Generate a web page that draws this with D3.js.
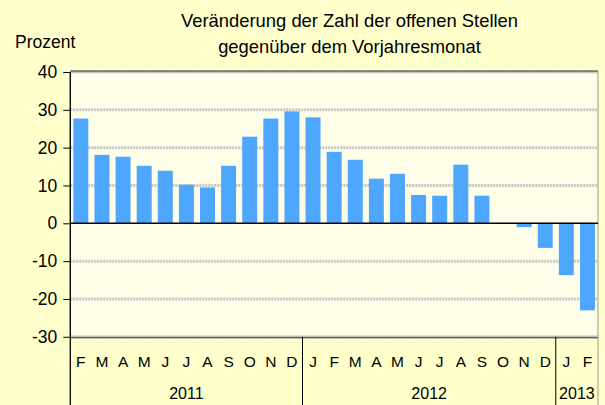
<!DOCTYPE html>
<html>
<head>
<meta charset="utf-8">
<script src="https://cdn.jsdelivr.net/npm/d3@7"></script>
<style>
  body { margin: 0; background: #ffffcc; }
  svg { display: block; font-family: "Liberation Sans", Arial, sans-serif; }
</style>
</head>
<body>
<div id="chart"></div>
<script>
// Monthly values, Feb 2011 .. Feb 2013
const MONTHS = ["F","M","A","M","J","J","A","S","O","N","D",
                "J","F","M","A","M","J","J","A","S","O","N","D",
                "J","F"];
const VALUES = [27.7, 18.1, 17.6, 15.2, 13.9, 10.2, 9.5, 15.2, 22.9, 27.7, 29.6,
                28.0, 18.9, 16.8, 11.8, 13.1, 7.5, 7.3, 15.5, 7.3, 0, -1.0, -6.5,
                -13.7, -23.0];
const YEARS = [
    {label: "2011", count: 11},
    {label: "2012", count: 12},
    {label: "2013", count: 2}
];
const Y_TICKS = [40, 30, 20, 10, 0, -10, -20, -30];
const TITLE = ["Veränderung der Zahl der offenen Stellen", "gegenüber dem Vorjahresmonat"];

const BG_COLOR = "#ffffcc";
const PLOT_BG = "#ffffe9";
const BAR_COLOR = "#4ea7ff";
const GRID_COLOR = "#c4c4c4";

const width = 605, height = 405;
const plot = {left: 70.3, right: 598, top: 72, bottom: 336.8};

const svg = d3.select("#chart")
    .append("svg")
    .attr("width", width)
    .attr("height", height);

svg.append("rect")
    .attr("width", width)
    .attr("height", height)
    .attr("fill", BG_COLOR);

const ids = MONTHS.map((m, i) => i);
const xScale = d3.scaleBand()
    .domain(ids)
    .range([plot.left, plot.right])
    .paddingInner(0.29)
    .paddingOuter(0.145);

const yScale = d3.scaleLinear()
    .domain([-30, 40])
    .range([plot.bottom, plot.top]);

// plot area
svg.append("rect")
    .attr("x", plot.left)
    .attr("y", plot.top)
    .attr("width", plot.right - plot.left)
    .attr("height", plot.bottom - plot.top)
    .attr("fill", PLOT_BG)
    .attr("stroke", "#999")
    .attr("stroke-width", 1);

// gridlines
svg.selectAll(".grid")
    .data(Y_TICKS.filter(d => d !== 0))
    .enter()
    .append("line")
    .attr("class", "grid")
    .attr("x1", plot.left)
    .attr("x2", plot.right)
    .attr("y1", d => yScale(d))
    .attr("y2", d => yScale(d))
    .attr("stroke", GRID_COLOR)
    .attr("stroke-width", 3)
    .attr("stroke-dasharray", "2,1");

// top and bottom dark edges
[40, -30].forEach(v => {
    svg.append("line")
        .attr("x1", plot.left)
        .attr("x2", plot.right)
        .attr("y1", yScale(v) + (v > 0 ? -1 : 1))
        .attr("y2", yScale(v) + (v > 0 ? -1 : 1))
        .attr("stroke", "#333")
        .attr("stroke-width", 1);
});

// bars
svg.selectAll(".bar")
    .data(VALUES)
    .enter()
    .append("rect")
    .attr("class", "bar")
    .attr("x", (d, i) => xScale(i))
    .attr("y", d => yScale(Math.max(0, d)))
    .attr("width", xScale.bandwidth())
    .attr("height", d => Math.abs(yScale(d) - yScale(0)))
    .attr("fill", BAR_COLOR);

// zero line
svg.append("line")
    .attr("x1", plot.left)
    .attr("x2", plot.right)
    .attr("y1", yScale(0))
    .attr("y2", yScale(0))
    .attr("stroke", "#000")
    .attr("stroke-width", 1.5);

// y axis
const yAxis = svg.append("g")
    .attr("transform", `translate(${plot.left},0)`)
    .call(d3.axisLeft(yScale).tickValues(Y_TICKS).tickSize(7).tickPadding(6).tickFormat(d => String(d)));
yAxis.select(".domain").remove();
yAxis.selectAll("line").attr("stroke", "#000");
yAxis.selectAll("text")
    .attr("font-size", 17.5)
    .attr("fill", "#000")
    .attr("font-family", "Liberation Sans, Arial, sans-serif");

svg.append("line")
    .attr("x1", plot.left)
    .attr("x2", plot.left)
    .attr("y1", plot.top)
    .attr("y2", height)
    .attr("stroke", "#000")
    .attr("stroke-width", 1.3);

// month labels
svg.selectAll(".month")
    .data(MONTHS)
    .enter()
    .append("text")
    .attr("class", "month")
    .attr("x", (d, i) => xScale(i) + xScale.bandwidth() / 2)
    .attr("y", 366.5)
    .attr("text-anchor", "middle")
    .attr("font-size", 15.5)
    .attr("fill", "#000")
    .text(d => d);

// year labels and separators
let start = 0;
YEARS.forEach(y => {
    const x0 = plot.left + start * xScale.step();
    const x1 = plot.left + (start + y.count) * xScale.step();
    svg.append("text")
        .attr("x", (x0 + x1) / 2)
        .attr("y", 399)
        .attr("text-anchor", "middle")
        .attr("font-size", 16)
        .attr("fill", "#000")
        .text(y.label);
    start += y.count;
    if (start < MONTHS.length) {
        svg.append("line")
            .attr("x1", x1).attr("x2", x1)
            .attr("y1", plot.bottom).attr("y2", height)
            .attr("stroke", "#000")
            .attr("stroke-width", 1);
    }
});
svg.append("line")
    .attr("x1", plot.right).attr("x2", plot.right)
    .attr("y1", plot.bottom).attr("y2", height)
    .attr("stroke", "#999")
    .attr("stroke-width", 1);

// title
svg.selectAll(".title")
    .data(TITLE)
    .enter()
    .append("text")
    .attr("class", "title")
    .attr("x", 349.5)
    .attr("y", (d, i) => 27 + i * 25.5)
    .attr("text-anchor", "middle")
    .attr("font-size", 18.4)
    .attr("fill", "#000")
    .text(d => d);

svg.append("text")
    .attr("x", 15)
    .attr("y", 48)
    .attr("font-size", 17.5)
    .attr("fill", "#000")
    .text("Prozent");
</script>
</body>
</html>
